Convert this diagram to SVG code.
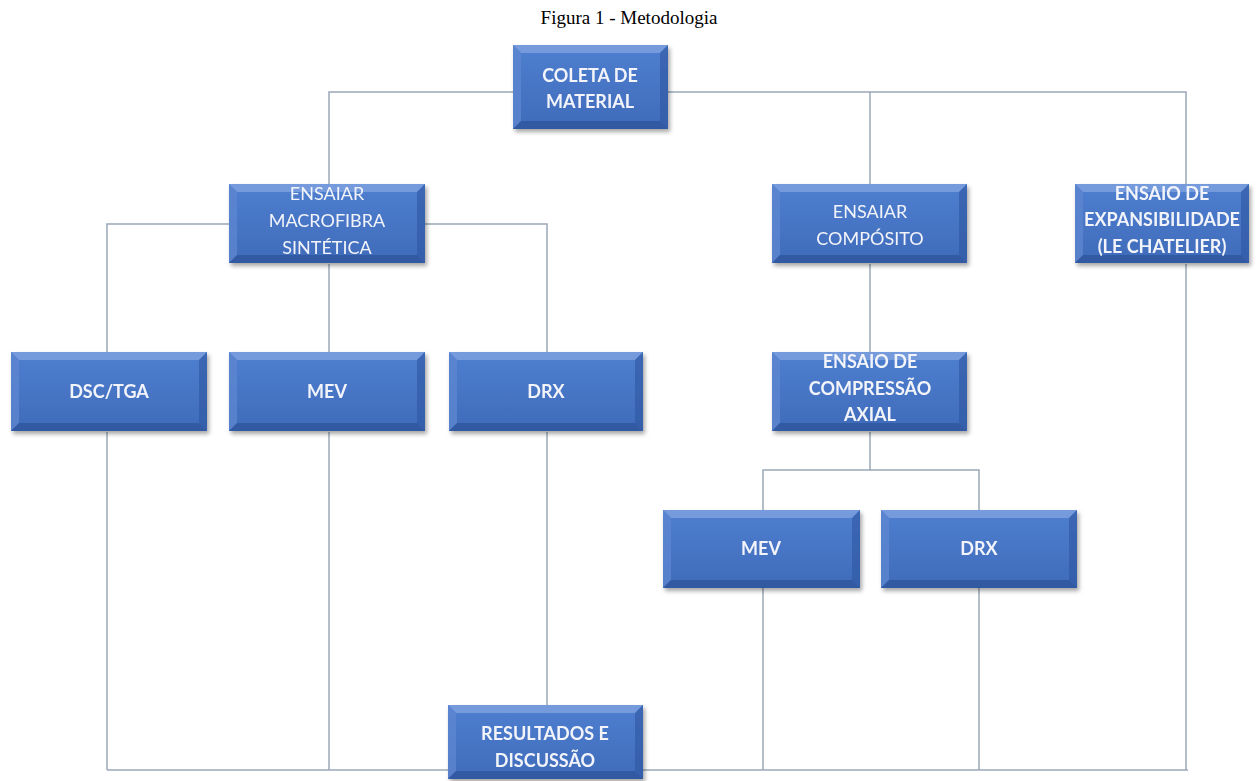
<svg xmlns="http://www.w3.org/2000/svg" width="1258" height="781" viewBox="0 0 1258 781">
<defs>
<filter id="sh" x="-10%" y="-10%" width="125%" height="130%">
<feDropShadow dx="2" dy="3" stdDeviation="2" flood-color="#000" flood-opacity="0.35"/>
</filter>
<linearGradient id="g" x1="0" y1="0" x2="0" y2="1">
<stop offset="0" stop-color="#4F7FD0"/>
<stop offset="1" stop-color="#3F6BBA"/>
</linearGradient>
</defs>
<style>
.ln{stroke:#9AA8B8;stroke-width:1.5;fill:none}
.bx{fill:url(#g)}
.bt{fill:#7FA2E0;opacity:0.8}
.bl{fill:#5E86D0;opacity:0.8}
.br{fill:#2F57A0;opacity:0.6}
.bb{fill:#2A4F93;opacity:0.6}
.t{font-family:Lato,"Open Sans","Liberation Sans",sans-serif;font-size:18px;fill:#F2F4FA;text-anchor:middle}
.b{font-weight:bold}
.ttl{font-family:"Liberation Serif",serif;font-size:19px;fill:#000;text-anchor:middle}
</style>
<rect width="1258" height="781" fill="#fff"/>
<text class="ttl" x="629" y="24">Figura 1 - Metodologia</text>
<g id="connectors">
<polyline class="ln" points="329,185 329,92 1186,92 1186,185"/>
<line class="ln" x1="870" y1="92" x2="870" y2="185"/>
<polyline class="ln" points="107,352 107,224 547,224 547,352"/>
<line class="ln" x1="329" y1="264" x2="329" y2="352"/>
<line class="ln" x1="870" y1="264" x2="870" y2="352"/>
<line class="ln" x1="870" y1="432" x2="870" y2="470"/>
<polyline class="ln" points="763,510 763,470 979,470 979,510"/>
<line class="ln" x1="107" y1="432" x2="107" y2="770"/>
<line class="ln" x1="329" y1="432" x2="329" y2="770"/>
<line class="ln" x1="547" y1="432" x2="547" y2="706"/>
<line class="ln" x1="763" y1="588" x2="763" y2="770"/>
<line class="ln" x1="979" y1="588" x2="979" y2="770"/>
<line class="ln" x1="1186" y1="264" x2="1186" y2="770"/>
<line class="ln" x1="107" y1="770" x2="1188" y2="770"/>
</g>
<g id="coleta" filter="url(#sh)">
<rect class="bx" x="513" y="45" width="155" height="84"/>
<polygon class="bt" points="513,45 668,45 660,53 521,53"/>
<polygon class="bl" points="513,45 521,53 521,121 513,129"/>
<polygon class="br" points="668,45 668,129 660,121 660,53"/>
<polygon class="bb" points="513,129 668,129 660,121 521,121"/>
<text class="t b" x="590" y="82">COLETA DE</text>
<text class="t b" x="590" y="108">MATERIAL</text>
</g>
<g id="macrofibra" filter="url(#sh)">
<rect class="bx" x="229" y="184" width="196" height="79"/>
<polygon class="bt" points="229,184 425,184 417,192 237,192"/>
<polygon class="bl" points="229,184 237,192 237,255 229,263"/>
<polygon class="br" points="425,184 425,263 417,255 417,192"/>
<polygon class="bb" points="229,263 425,263 417,255 237,255"/>
<text class="t" x="327" y="200">ENSAIAR</text>
<text class="t" x="327" y="227">MACROFIBRA</text>
<text class="t" x="327" y="254">SINTÉTICA</text>
</g>
<g id="composito" filter="url(#sh)">
<rect class="bx" x="772" y="184" width="195" height="79"/>
<polygon class="bt" points="772,184 967,184 959,192 780,192"/>
<polygon class="bl" points="772,184 780,192 780,255 772,263"/>
<polygon class="br" points="967,184 967,263 959,255 959,192"/>
<polygon class="bb" points="772,263 967,263 959,255 780,255"/>
<text class="t" x="870" y="218">ENSAIAR</text>
<text class="t" x="870" y="245">COMPÓSITO</text>
</g>
<g id="expansibilidade" filter="url(#sh)">
<rect class="bx" x="1075" y="184" width="174" height="79"/>
<polygon class="bt" points="1075,184 1249,184 1241,192 1083,192"/>
<polygon class="bl" points="1075,184 1083,192 1083,255 1075,263"/>
<polygon class="br" points="1249,184 1249,263 1241,255 1241,192"/>
<polygon class="bb" points="1075,263 1249,263 1241,255 1083,255"/>
<text class="t b" x="1162" y="200">ENSAIO DE</text>
<text class="t b" x="1162" y="226">EXPANSIBILIDADE</text>
<text class="t b" x="1162" y="253">(LE CHATELIER)</text>
</g>
<g id="dsctga" filter="url(#sh)">
<rect class="bx" x="11" y="352" width="196" height="79"/>
<polygon class="bt" points="11,352 207,352 199,360 19,360"/>
<polygon class="bl" points="11,352 19,360 19,423 11,431"/>
<polygon class="br" points="207,352 207,431 199,423 199,360"/>
<polygon class="bb" points="11,431 207,431 199,423 19,423"/>
<text class="t b" x="109" y="398">DSC/TGA</text>
</g>
<g id="mev1" filter="url(#sh)">
<rect class="bx" x="229" y="352" width="196" height="79"/>
<polygon class="bt" points="229,352 425,352 417,360 237,360"/>
<polygon class="bl" points="229,352 237,360 237,423 229,431"/>
<polygon class="br" points="425,352 425,431 417,423 417,360"/>
<polygon class="bb" points="229,431 425,431 417,423 237,423"/>
<text class="t b" x="327" y="398">MEV</text>
</g>
<g id="drx1" filter="url(#sh)">
<rect class="bx" x="449" y="352" width="194" height="79"/>
<polygon class="bt" points="449,352 643,352 635,360 457,360"/>
<polygon class="bl" points="449,352 457,360 457,423 449,431"/>
<polygon class="br" points="643,352 643,431 635,423 635,360"/>
<polygon class="bb" points="449,431 643,431 635,423 457,423"/>
<text class="t b" x="546" y="398">DRX</text>
</g>
<g id="compressao" filter="url(#sh)">
<rect class="bx" x="772" y="352" width="195" height="79"/>
<polygon class="bt" points="772,352 967,352 959,360 780,360"/>
<polygon class="bl" points="772,352 780,360 780,423 772,431"/>
<polygon class="br" points="967,352 967,431 959,423 959,360"/>
<polygon class="bb" points="772,431 967,431 959,423 780,423"/>
<text class="t b" x="870" y="368">ENSAIO DE</text>
<text class="t b" x="870" y="395">COMPRESSÃO</text>
<text class="t b" x="870" y="421">AXIAL</text>
</g>
<g id="mev2" filter="url(#sh)">
<rect class="bx" x="663" y="510" width="197" height="78"/>
<polygon class="bt" points="663,510 860,510 852,518 671,518"/>
<polygon class="bl" points="663,510 671,518 671,580 663,588"/>
<polygon class="br" points="860,510 860,588 852,580 852,518"/>
<polygon class="bb" points="663,588 860,588 852,580 671,580"/>
<text class="t b" x="761" y="555">MEV</text>
</g>
<g id="drx2" filter="url(#sh)">
<rect class="bx" x="881" y="510" width="196" height="78"/>
<polygon class="bt" points="881,510 1077,510 1069,518 889,518"/>
<polygon class="bl" points="881,510 889,518 889,580 881,588"/>
<polygon class="br" points="1077,510 1077,588 1069,580 1069,518"/>
<polygon class="bb" points="881,588 1077,588 1069,580 889,580"/>
<text class="t b" x="979" y="555">DRX</text>
</g>
<g id="resultados" filter="url(#sh)">
<rect class="bx" x="448" y="705" width="195" height="74"/>
<polygon class="bt" points="448,705 643,705 635,713 456,713"/>
<polygon class="bl" points="448,705 456,713 456,771 448,779"/>
<polygon class="br" points="643,705 643,779 635,771 635,713"/>
<polygon class="bb" points="448,779 643,779 635,771 456,771"/>
<text class="t b" x="545" y="740">RESULTADOS E</text>
<text class="t b" x="545" y="767">DISCUSSÃO</text>
</g>
</svg>
